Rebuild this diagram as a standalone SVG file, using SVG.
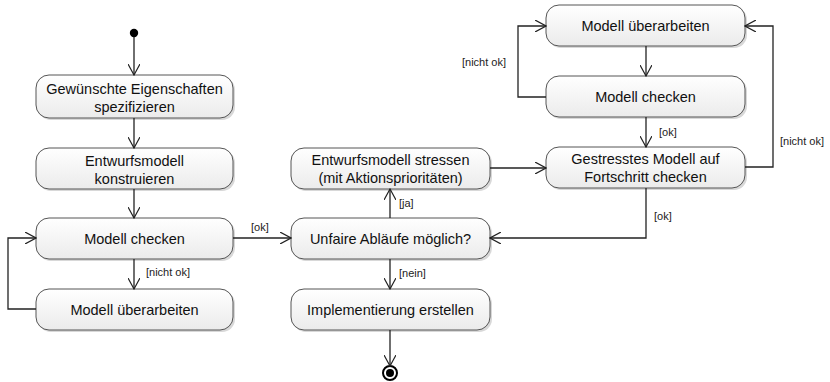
<svg xmlns="http://www.w3.org/2000/svg" width="830" height="382" viewBox="0 0 830 382">
<defs>
<linearGradient id="g" x1="0" y1="0" x2="0" y2="1">
<stop offset="0" stop-color="#ffffff"/>
<stop offset="1" stop-color="#ebebeb"/>
</linearGradient>
<marker id="a" viewBox="0 0 12 12" refX="11" refY="6" markerWidth="12" markerHeight="12" markerUnits="userSpaceOnUse" orient="auto">
<path d="M0,0 L11,6 L0,12" fill="none" stroke="#222" stroke-width="1.2"/>
</marker>
</defs>
<style>
.n rect.s{fill:#d8d8d8;stroke:none}
.n rect.b{fill:url(#g);stroke:#555;stroke-width:1}
.n text{font-family:"Liberation Sans",Arial,sans-serif;font-size:14.5px;fill:#111;text-anchor:middle}
.c path{fill:none;stroke:#222;stroke-width:1.3;marker-end:url(#a)}
.l{font-family:"Liberation Sans",Arial,sans-serif;font-size:11px;fill:#222}
</style>
<rect width="830" height="382" fill="#fff"/>
<g id="start"><circle cx="134" cy="33" r="4.2" fill="#000"/></g>
<g id="n1" class="n"><rect class="s" x="38" y="77" width="197" height="43" rx="13"/><rect class="b" x="36" y="75" width="197" height="43" rx="13"/><text x="134.5" y="94">Gewünschte Eigenschaften</text><text x="134.5" y="112">spezifizieren</text></g>
<g id="n2" class="n"><rect class="s" x="38" y="150" width="197" height="41" rx="13"/><rect class="b" x="36" y="148" width="197" height="41" rx="13"/><text x="134.5" y="166">Entwurfsmodell</text><text x="134.5" y="184">konstruieren</text></g>
<g id="n3" class="n"><rect class="s" x="38" y="220" width="197" height="41" rx="13"/><rect class="b" x="36" y="218" width="197" height="41" rx="13"/><text x="134.5" y="243.5">Modell checken</text></g>
<g id="n4" class="n"><rect class="s" x="38" y="291" width="197" height="41" rx="13"/><rect class="b" x="36" y="289" width="197" height="41" rx="13"/><text x="134.5" y="314.5">Modell überarbeiten</text></g>
<g id="m1" class="n"><rect class="s" x="293" y="150" width="199" height="41" rx="13"/><rect class="b" x="291" y="148" width="199" height="41" rx="13"/><text x="390.5" y="165">Entwurfsmodell stressen</text><text x="390.5" y="183">(mit Aktionsprioritäten)</text></g>
<g id="m2" class="n"><rect class="s" x="293" y="220" width="199" height="41" rx="13"/><rect class="b" x="291" y="218" width="199" height="41" rx="13"/><text x="390.5" y="243.5">Unfaire Abläufe möglich?</text></g>
<g id="m3" class="n"><rect class="s" x="293" y="291" width="199" height="41" rx="13"/><rect class="b" x="291" y="289" width="199" height="41" rx="13"/><text x="390.5" y="314.5">Implementierung erstellen</text></g>
<g id="end"><circle cx="390" cy="373" r="7" fill="#fff" stroke="#000" stroke-width="2"/><circle cx="390" cy="373" r="4" fill="#000"/></g>
<g id="r1" class="n"><rect class="s" x="548" y="7" width="199" height="41" rx="13"/><rect class="b" x="546" y="5" width="199" height="41" rx="13"/><text x="645.5" y="30.5">Modell überarbeiten</text></g>
<g id="r2" class="n"><rect class="s" x="548" y="78" width="199" height="41" rx="13"/><rect class="b" x="546" y="76" width="199" height="41" rx="13"/><text x="645.5" y="101.5">Modell checken</text></g>
<g id="r3" class="n"><rect class="s" x="548" y="149" width="199" height="41" rx="13"/><rect class="b" x="546" y="147" width="199" height="41" rx="13"/><text x="645.5" y="164">Gestresstes Modell auf</text><text x="645.5" y="182">Fortschritt checken</text></g>
<g id="connectors" class="c">
<path d="M134,37 V75"/>
<path d="M134,118 V148"/>
<path d="M134,189 V218"/>
<path d="M134,259 V289"/>
<path d="M36,309 H8 V238 H36"/>
<path d="M233,238 H291"/>
<path d="M390,218 V189"/>
<path d="M390,259 V289"/>
<path d="M390,330 V366"/>
<path d="M490,168 H546"/>
<path d="M646,188 V238 H490"/>
<path d="M745,167 H773 V26 H745"/>
<path d="M646,46 V76"/>
<path d="M546,97 H518 V26 H546"/>
<path d="M646,117 V147"/>
</g>
<g id="labels">
<text class="l" x="146" y="276">[nicht ok]</text>
<text class="l" x="251" y="231">[ok]</text>
<text class="l" x="399" y="207">[ja]</text>
<text class="l" x="399" y="277">[nein]</text>
<text class="l" x="654" y="220">[ok]</text>
<text class="l" x="659" y="136">[ok]</text>
<text class="l" x="462" y="66">[nicht ok]</text>
<text class="l" x="780" y="145">[nicht ok]</text>
</g>
</svg>
